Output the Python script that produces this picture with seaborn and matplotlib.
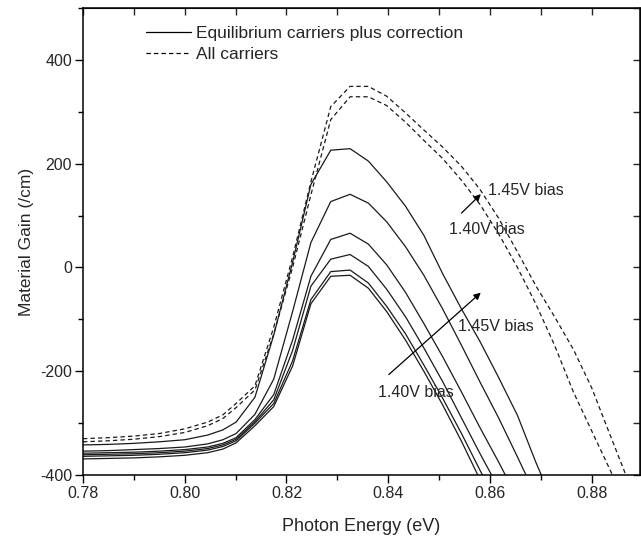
"""
Material gain vs photon energy for two bias levels:
equilibrium carriers plus correction (solid) and all carriers (dashed).
"""

import matplotlib
matplotlib.use("Agg")          # no screen needed
import matplotlib.pyplot as plt
from matplotlib.lines import Line2D
from matplotlib.ticker import MultipleLocator, FormatStrFormatter
import pandas as pd
import seaborn as sns

# ── Data ──────────────────────────────────────────────────────────────────────
energy = [0.780, 0.785, 0.790, 0.795, 0.800, 0.8045, 0.8075, 0.8101, 0.8138,
          0.8175, 0.8212, 0.8248, 0.8287, 0.8325, 0.8361, 0.8397, 0.8434,
          0.8470, 0.8507, 0.8544, 0.8580, 0.8617, 0.8654, 0.8690, 0.8727,
          0.8764, 0.8800, 0.8837, 0.8874, 0.8910]

# all carriers (dashed), 1.45 V and 1.40 V
all_145 = [-330, -328, -325, -320, -311, -298, -284, -262, -228, -115, 20, 165,
           310, 349, 349, 330, 298, 265, 232, 195, 151, 95, 30, -35, -95, -158,
           -232, -325, -417, -500]
all_140 = [-336, -334, -331, -326, -318, -305, -291, -270, -236, -128, 0, 140,
           285, 329, 329, 312, 280, 245, 210, 168, 122, 65, 0, -70, -150, -240,
           -315, -392, -470, -550]

# equilibrium carriers plus correction (solid), highest bias first
eq_1 = [-342, -341, -339, -336, -332, -323, -313, -298, -250, -130, 10, 160,
        226, 229, 205, 165, 118, 62, -12, -80, -142, -212, -285, -375, -460]
eq_2 = [-354, -353, -351, -349, -346, -340, -332, -320, -283, -215, -85, 48,
        127, 141, 124, 88, 40, -15, -80, -150, -220, -290, -365, -440]
eq_3 = [-358, -357, -356, -354, -351, -346, -339, -328, -293, -245, -140, -17,
        54, 66, 45, 5, -48, -108, -172, -240, -308, -375, -445]
eq_4 = [-361, -360, -359, -357, -354, -349, -342, -331, -297, -255, -160, -36,
        16, 25, 2, -42, -95, -155, -220, -290, -358, -425]
eq_5 = [-364, -363, -362, -360, -357, -352, -345, -334, -300, -262, -180, -62,
        -8, -5, -30, -75, -128, -188, -252, -320, -390, -460]
eq_6 = [-369, -368, -367, -365, -362, -357, -350, -338, -305, -268, -190, -70,
        -17, -15, -40, -85, -140, -200, -265, -335, -408]

SOLID = "Equilibrium carriers plus correction"
DASHED = "All carriers"

curves = {
    "all_145": (DASHED, all_145),
    "all_140": (DASHED, all_140),
    "eq_1": (SOLID, eq_1),
    "eq_2": (SOLID, eq_2),
    "eq_3": (SOLID, eq_3),
    "eq_4": (SOLID, eq_4),
    "eq_5": (SOLID, eq_5),
    "eq_6": (SOLID, eq_6),
}

rows = []
for name, (kind, vals) in curves.items():
    for e, g in zip(energy, vals):
        rows.append({"curve": name, "kind": kind, "energy": e, "gain": g})
df = pd.DataFrame(rows)

# ── Style ─────────────────────────────────────────────────────────────────────
sns.set_style("ticks")
plt.rcParams["font.family"] = ["Liberation Sans", "DejaVu Sans"]
plt.rcParams["axes.unicode_minus"] = False   # plain hyphen like the original

fig = plt.figure(figsize=(6.41, 5.43), dpi=100)
ax = fig.add_axes([0.1295, 0.1252, 0.869, 0.860])

sns.lineplot(
    data=df, x="energy", y="gain", units="curve", style="kind",
    estimator=None, sort=False, color="#1a1a1a", linewidth=0.9,
    dashes={SOLID: "", DASHED: (3.5, 2.5)}, legend=False, ax=ax
)

ax.set_xlim(0.78, 0.8895)
ax.set_ylim(-400, 500)
ax.xaxis.set_major_locator(MultipleLocator(0.02))
ax.xaxis.set_minor_locator(MultipleLocator(0.01))
ax.xaxis.set_major_formatter(FormatStrFormatter("%.2f"))
ax.set_yticks([-400, -200, 0, 200, 400])
ax.yaxis.set_minor_locator(MultipleLocator(100))

ax.tick_params(which="major", direction="out", length=6, width=1,
               labelsize=11.5, pad=2, color="black")
ax.tick_params(which="minor", direction="out", length=3.5, width=1,
               color="black")
for s in ax.spines.values():
    s.set_visible(True)
    s.set_linewidth(1.1)
    s.set_color("black")

# mirrored ticks pointing inward on top and right
top = ax.secondary_xaxis("top")
top.xaxis.set_major_locator(MultipleLocator(0.01))
top.tick_params(direction="in", length=5, width=1, labeltop=False)
right = ax.secondary_yaxis("right")
right.yaxis.set_major_locator(MultipleLocator(100))
right.tick_params(direction="in", length=5, width=1, labelright=False)

ax.set_xlabel("Photon Energy (eV)", fontsize=13, labelpad=12)
ax.set_ylabel("Material Gain (/cm)", fontsize=12.5, labelpad=4)

# bias arrows and labels
arrow = dict(arrowstyle="-|>", color="black", lw=0.9, mutation_scale=10)
ax.annotate("", xy=(0.8586, -45), xytext=(0.8397, -210), arrowprops=arrow)
ax.annotate("", xy=(0.8586, 145), xytext=(0.8540, 101), arrowprops=arrow)
ax.text(0.8597, 148, "1.45V bias", fontsize=11.5, va="center", ha="left")
ax.text(0.8520, 74, "1.40V bias", fontsize=11.5, va="center", ha="left")
ax.text(0.8537, -114, "1.45V bias", fontsize=11.5, va="center", ha="left")
ax.text(0.8380, -241, "1.40V bias", fontsize=11.5, va="center", ha="left")

handles = [
    Line2D([], [], color="black", lw=0.9, label=SOLID),
    Line2D([], [], color="black", lw=0.9, ls=(0, (3.5, 2.5)), label=DASHED),
]
ax.legend(handles=handles, loc="upper left", bbox_to_anchor=(0.085, 0.995),
          frameon=False, fontsize=12.5, handlelength=2.6, handletextpad=0.3,
          labelspacing=0.35)

fig.savefig("out.png", dpi=100)
plt.close(fig)
